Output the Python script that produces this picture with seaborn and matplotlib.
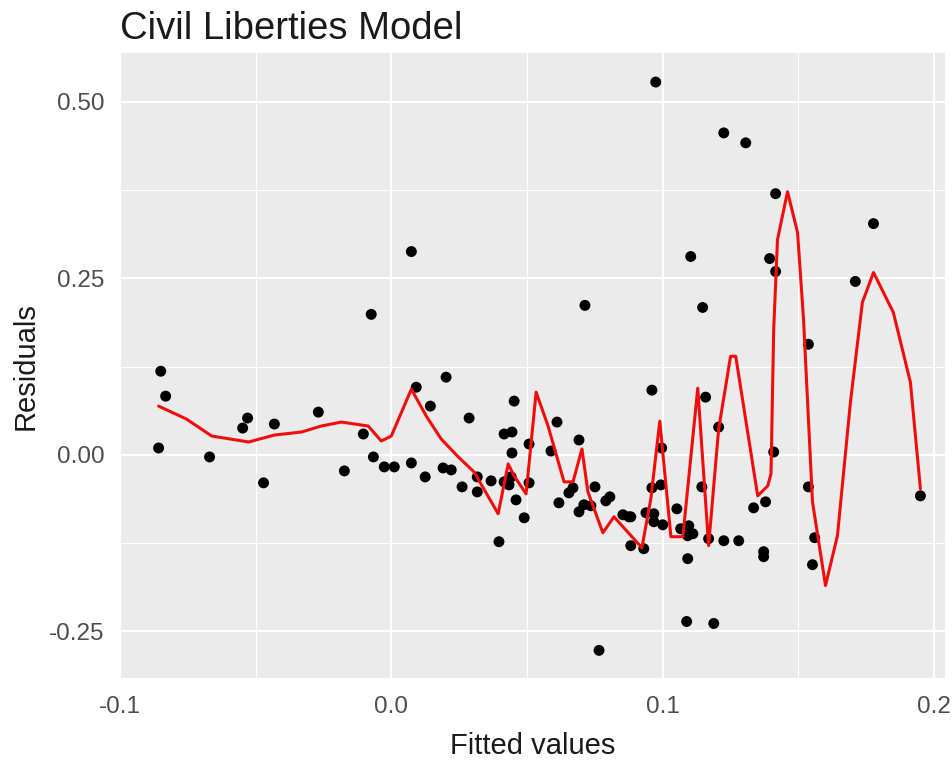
import matplotlib
matplotlib.use("Agg")
import matplotlib.pyplot as plt
import seaborn as sns
import pandas as pd
import numpy as np

# ---- data ----
fitted = [-0.0850, -0.0832, -0.0858, -0.0670, -0.0548, -0.0530, -0.0471, -0.0431, -0.0269, -0.0173,
          -0.0103, -0.0066, -0.0026, 0.0011, 0.0074, 0.0125, 0.0092, 0.0144, 0.0074, -0.0074,
          0.0202, 0.0287, 0.0453, 0.0416, 0.0445, 0.0445, 0.0508, 0.0611, 0.0589, 0.0692,
          0.0191, 0.0221, 0.0261, 0.0317, 0.0317, 0.0368, 0.0416, 0.0442, 0.0434, 0.0460,
          0.0490, 0.0397, 0.0508, 0.0618, 0.0655, 0.0670, 0.0692, 0.0710, 0.0736, 0.0751,
          0.0791, 0.0806, 0.0854, 0.0876, 0.0883, 0.0931, 0.0766, 0.0714,
          0.0975, 0.1226, 0.1307, 0.1417, 0.1104, 0.1395, 0.1417, 0.1148, 0.0961, 0.1159,
          0.1207, 0.0997, 0.1410, 0.0961, 0.0994, 0.1145, 0.1053, 0.0939, 0.0968, 0.0968,
          0.1001, 0.0883, 0.1336, 0.1380, 0.1067, 0.1097, 0.1112, 0.1093, 0.1170, 0.1226,
          0.1281, 0.1093, 0.1373, 0.1373, 0.1089, 0.1189,
          0.1778, 0.1711, 0.1538, 0.1538, 0.1561, 0.1553, 0.1951]
residuals = [0.1186, 0.0833, 0.0099, -0.0028, 0.0381, 0.0523, -0.0395, 0.0438, 0.0607, -0.0226,
             0.0297, -0.0028, -0.0169, -0.0169, -0.0113, -0.0311, 0.0960, 0.0692, 0.2881, 0.1992,
             0.1102, 0.0523, 0.0763, 0.0297, 0.0325, 0.0028, 0.0155, 0.0466, 0.0056, 0.0212,
             -0.0184, -0.0212, -0.0452, -0.0311, -0.0523, -0.0367, -0.0381, -0.0311, -0.0424, -0.0636,
             -0.0890, -0.1229, -0.0395, -0.0678, -0.0537, -0.0466, -0.0805, -0.0706, -0.0720, -0.0452,
             -0.0650, -0.0593, -0.0847, -0.0876, -0.1285, -0.1328, -0.2768, 0.2119,
             0.5282, 0.4562, 0.4421, 0.3701, 0.2811, 0.2782, 0.2599, 0.2090, 0.0918, 0.0819,
             0.0395, 0.0099, 0.0042, -0.0466, -0.0424, -0.0452, -0.0763, -0.0819, -0.0833, -0.0946,
             -0.0989, -0.0876, -0.0749, -0.0664, -0.1045, -0.1003, -0.1116, -0.1144, -0.1186, -0.1215,
             -0.1215, -0.1469, -0.1370, -0.1441, -0.2359, -0.2387,
             0.3277, 0.2458, 0.1568, -0.0452, -0.1172, -0.1554, -0.0579]

smooth_x = [-0.0858, -0.0755, -0.0662, -0.0526, -0.0431, -0.0331, -0.0258, -0.0184, -0.0085, -0.0037,
            0.0000, 0.0074, 0.0129, 0.0184, 0.0247, 0.0305, 0.0394, 0.0431, 0.0453, 0.0497,
            0.0534, 0.0578, 0.0637, 0.0670, 0.0703, 0.0725, 0.0780, 0.0821, 0.0924, 0.0957,
            0.0990, 0.1031, 0.1075, 0.1130, 0.1170, 0.1207, 0.1251, 0.1270, 0.1351, 0.1388,
            0.1400, 0.1410, 0.1424, 0.1461, 0.1498, 0.1520, 0.1553, 0.1601, 0.1645, 0.1693,
            0.1737, 0.1778, 0.1851, 0.1914, 0.1951]
smooth_y = [0.0692, 0.0508, 0.0268, 0.0184, 0.0282, 0.0325, 0.0410, 0.0466, 0.0410, 0.0198,
            0.0268, 0.0932, 0.0551, 0.0226, -0.0028, -0.0240, -0.0833, -0.0127, -0.0297, -0.0551,
            0.0890, 0.0410, -0.0381, -0.0381, 0.0085, -0.0523, -0.1102, -0.0876, -0.1314, -0.0621,
            0.0480, -0.1158, -0.1158, 0.0946, -0.1285, 0.0367, 0.1398, 0.1398, -0.0579, -0.0438,
            -0.0268, 0.1780, 0.3050, 0.3729, 0.3150, 0.1921, -0.0664, -0.1850, -0.1144, 0.0749,
            0.2161, 0.2585, 0.2020, 0.1031, -0.0480]

x_ticks = [-0.1, 0.0, 0.1, 0.2]
x_tick_labels = ["-0.1", "0.0", "0.1", "0.2"]
y_ticks = [-0.25, 0.0, 0.25, 0.50]
y_tick_labels = ["-0.25", "0.00", "0.25", "0.50"]

pts = pd.DataFrame({"fitted": fitted, "resid": residuals})
smooth = pd.DataFrame({"x": smooth_x, "y": smooth_y})

# ---- drawing ----
sns.set_style("whitegrid")
plt.rcParams["font.family"] = ["Liberation Sans", "DejaVu Sans"]

fig = plt.figure(figsize=(9.53, 7.61), dpi=100)
ax = fig.add_axes([0.126, 0.109, 0.866, 0.821])
ax.set_facecolor("#EBEBEB")

sns.scatterplot(data=pts, x="fitted", y="resid", ax=ax, color="black", s=62,
                edgecolor="none", linewidth=0, zorder=3)
sns.lineplot(data=smooth, x="x", y="y", ax=ax, color="#F20D0D", linewidth=2.2,
             estimator=None, sort=False, zorder=4)

ax.set_xlim(-0.0997, 0.2043)
ax.set_ylim(-0.316, 0.569)

ax.set_xticks(x_ticks)
ax.set_xticklabels(x_tick_labels)
ax.set_yticks(y_ticks)
ax.set_yticklabels(y_tick_labels)
ax.set_xticks([-0.05, 0.05, 0.15], minor=True)
ax.set_yticks([-0.125, 0.125, 0.375], minor=True)

ax.grid(which="major", color="white", linewidth=1.5)
ax.grid(which="minor", color="white", linewidth=0.75)
ax.set_axisbelow(True)

for s in ax.spines.values():
    s.set_visible(False)

ax.tick_params(axis="both", which="major", length=5, width=1.1, color="#555555",
               labelcolor="#4D4D4D", labelsize=17.5)
ax.tick_params(axis="y", which="major", pad=6)
ax.tick_params(axis="x", which="major", pad=8)
ax.tick_params(axis="both", which="minor", length=0)

ax.set_xlabel("Fitted values", fontsize=21, color="#1A1A1A", labelpad=10)
ax.set_ylabel("Residuals", fontsize=21, color="#1A1A1A", labelpad=7)
ax.set_title("Civil Liberties Model", fontsize=27.5, color="#1A1A1A", loc="left", pad=10)

fig.savefig("out.png", dpi=100)
